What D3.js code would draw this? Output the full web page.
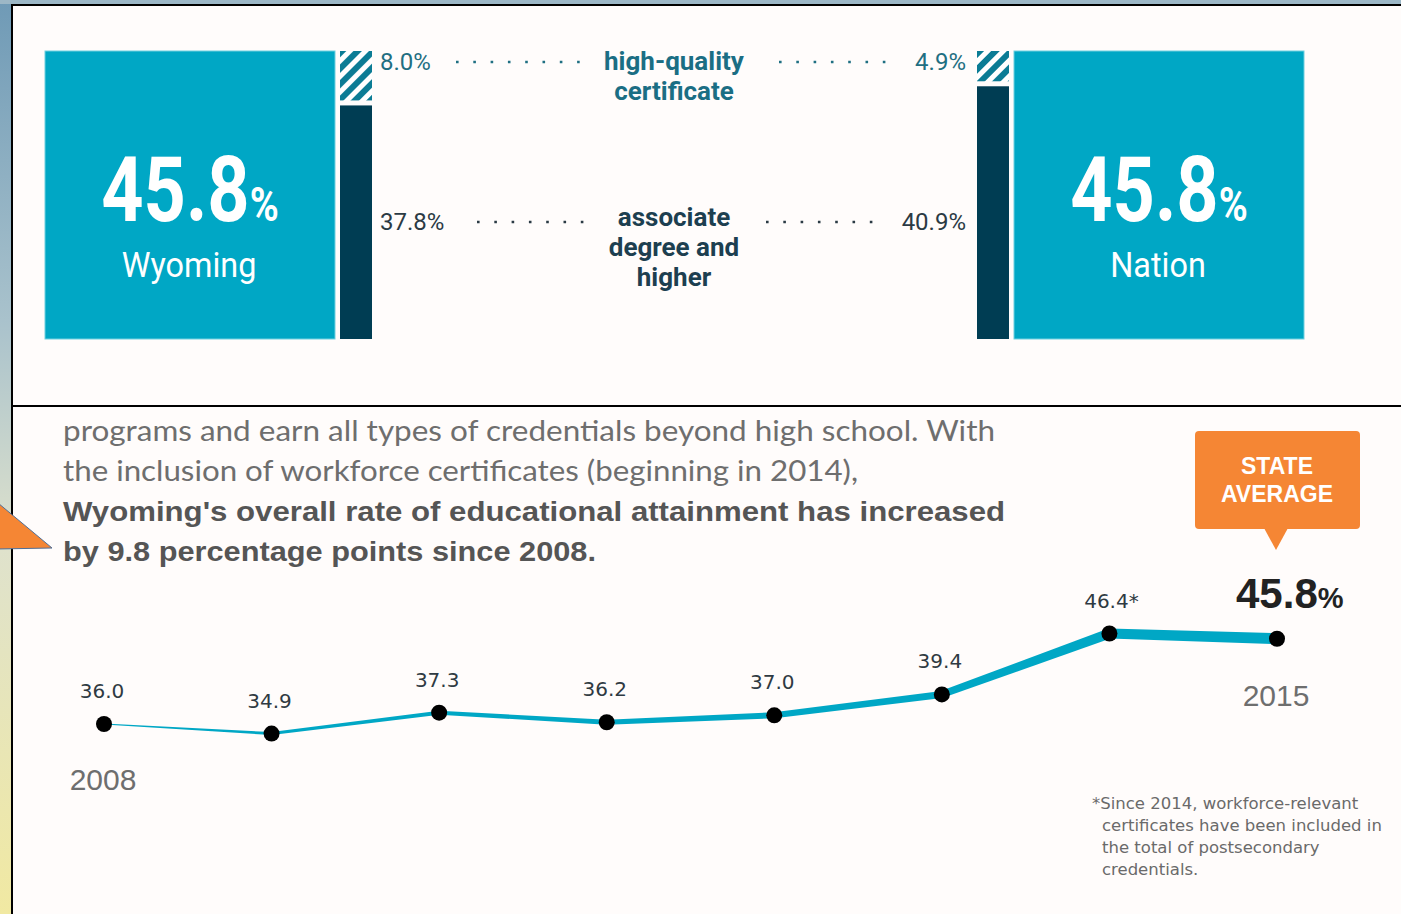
<html>
<head>
<script src="https://d3js.org/d3.v7.min.js"></script>
<style>
  body { margin: 0; background: #fffcfb; }
</style>
</head>
<body>
<svg id="chart"></svg>
<script>
// top comparison: Wyoming vs Nation
var places = ["Wyoming", "Nation"];
var totals = [45.8, 45.8];
var certificate = [8.0, 4.9];
var associate = [37.8, 40.9];
var segmentLabels = [["high-quality", "certificate"], ["associate", "degree and", "higher"]];

// trend line
var years = [2008, 2009, 2010, 2011, 2012, 2013, 2014, 2015];
var rates = [36.0, 34.9, 37.3, 36.2, 37.0, 39.4, 46.4, 45.8];
var rateLabels = ["36.0", "34.9", "37.3", "36.2", "37.0", "39.4", "46.4*", ""];

var paragraph = [
  "programs and earn all types of credentials beyond high school. With",
  "the inclusion of workforce certificates (beginning in 2014),"
];
var paragraphBold = [
  "Wyoming's overall rate of educational attainment has increased",
  "by 9.8 percentage points since 2008."
];
var footnote = [
  "*Since 2014, workforce-relevant",
  "certificates have been included in",
  "the total of postsecondary",
  "credentials."
];

var W = 1401, H = 914;
var teal = "#00a7c5", navy = "#003d53", hatchCol = "#0b7c95", orange = "#f58634";

var svg = d3.select("#chart").attr("width", W).attr("height", H)
  .attr("font-family", "Roboto, 'Liberation Sans', sans-serif");

// ---- background strips + frame
var defs = svg.append("defs");
var lg = defs.append("linearGradient").attr("id", "side").attr("x1", 0).attr("x2", 0).attr("y1", 0).attr("y2", 1);
lg.append("stop").attr("offset", "0%").attr("stop-color", "#6f9ab6");
lg.append("stop").attr("offset", "35%").attr("stop-color", "#a9c2cc");
lg.append("stop").attr("offset", "60%").attr("stop-color", "#dfe2cc");
lg.append("stop").attr("offset", "100%").attr("stop-color", "#f1e9a2");
var pat = defs.append("pattern").attr("id", "hatch").attr("patternUnits", "userSpaceOnUse")
  .attr("width", 11).attr("height", 11).attr("patternTransform", "rotate(45)");
pat.append("rect").attr("width", 11).attr("height", 11).attr("fill", "#fff");
pat.append("rect").attr("width", 6).attr("height", 11).attr("fill", hatchCol);

svg.append("rect").attr("width", W).attr("height", H).attr("fill", "#fffcfb");
svg.append("rect").attr("x", 0).attr("y", 0).attr("width", 11).attr("height", H).attr("fill", "url(#side)");
svg.append("rect").attr("x", 0).attr("y", 0).attr("width", W).attr("height", 4).attr("fill", "#9cb7c6");
svg.append("line").attr("x1", 11).attr("x2", W).attr("y1", 5).attr("y2", 5).attr("stroke", "#000").attr("stroke-width", 2);
svg.append("line").attr("x1", 12).attr("x2", 12).attr("y1", 4).attr("y2", H).attr("stroke", "#000").attr("stroke-width", 2);
svg.append("line").attr("x1", 12).attr("x2", W).attr("y1", 406).attr("y2", 406).attr("stroke", "#000").attr("stroke-width", 2);

// ---- top panel
var barTop = 51, barBottom = 339, gap = 5;
var hScale = d3.scaleLinear().domain([0, d3.max(totals)]).range([0, barBottom - barTop - gap]);
var boxX = [45, 1014], boxW = 290, stackX = [340, 977], stackW = 32;

places.forEach(function(p, i) {
  var g = svg.append("g");
  g.append("rect").attr("x", boxX[i]).attr("y", barTop).attr("width", boxW).attr("height", barBottom - barTop)
    .attr("fill", teal).attr("stroke", "#6fcfe0").attr("stroke-width", 1);
  var big = g.append("text").attr("transform", "translate(" + (boxX[i] + boxW / 2) + ",221) scale(0.82,1)")
    .attr("text-anchor", "middle").attr("fill", "#fff").attr("font-weight", "bold");
  big.append("tspan").attr("font-size", 90).text(d3.format(".1f")(totals[i]));
  big.append("tspan").attr("font-size", 48).text("%");
  g.append("text").attr("transform", "translate(" + (boxX[i] + boxW / 2 - 1) + ",277) scale(0.9,1)")
    .attr("text-anchor", "middle").attr("fill", "#fff").attr("font-size", 36).text(p);

  var hc = hScale(certificate[i]), ha = hScale(associate[i]);
  g.append("rect").attr("x", stackX[i]).attr("y", barTop).attr("width", stackW).attr("height", hc).attr("fill", "url(#hatch)");
  g.append("rect").attr("x", stackX[i]).attr("y", barTop + hc + gap).attr("width", stackW).attr("height", ha).attr("fill", navy);
});

// value labels with dotted leaders
var fmtP = function(v) { return d3.format(".1f")(v) + "%"; };
var rowY = [70, 230], rowCol = ["#1f6f82", "#2b3a44"];
var leaders = [
  [[456, 578], [779, 885]],
  [[477, 585], [766, 876]]
];
[certificate, associate].forEach(function(arr, r) {
  svg.append("text").attr("x", 380).attr("y", rowY[r]).attr("font-size", 24).attr("fill", rowCol[r]).text(fmtP(arr[0]));
  svg.append("text").attr("x", 966).attr("y", rowY[r]).attr("text-anchor", "end").attr("font-size", 24).attr("fill", rowCol[r]).text(fmtP(arr[1]));
  leaders[r].forEach(function(l) {
    svg.append("line").attr("x1", l[0]).attr("x2", l[1] + 3).attr("y1", rowY[r] - 8).attr("y2", rowY[r] - 8)
      .attr("stroke", rowCol[r]).attr("stroke-width", 2.6).attr("stroke-dasharray", "2.6 14.7");
  });
});
var lblTop = [70, 226], lblCol = ["#1b6e84", "#1d3f50"];
segmentLabels.forEach(function(lines, r) {
  lines.forEach(function(t, k) {
    svg.append("text").attr("x", 674).attr("y", lblTop[r] + k * 30).attr("text-anchor", "middle")
      .attr("font-size", 26).attr("font-weight", "bold").attr("fill", lblCol[r]).text(t);
  });
});

// ---- paragraph
var pWidths = [932, 795], bWidths = [942, 533];
paragraph.forEach(function(t, k) {
  svg.append("text").attr("x", 63).attr("y", 441 + k * 40).attr("font-family", "Lato").attr("font-size", 28)
    .attr("fill", "#6e6e6e").attr("textLength", pWidths[k]).attr("lengthAdjust", "spacingAndGlyphs").text(t);
});
paragraphBold.forEach(function(t, k) {
  svg.append("text").attr("x", 63).attr("y", 521 + k * 40).attr("font-family", "Liberation Sans").attr("font-size", 28)
    .attr("font-weight", "bold").attr("fill", "#555").attr("textLength", bWidths[k]).attr("lengthAdjust", "spacingAndGlyphs").text(t);
});

// orange pointer on the left edge
svg.append("polygon").attr("points", "-20,488 52,548 -4,549").attr("fill", orange).attr("stroke", "#4f6f98").attr("stroke-width", 1);

// ---- trend line
var x = d3.scalePoint().domain(years).range([104, 1277]);
var y = d3.scaleLinear().domain([36, 46.4]).range([724, 633.5]);
var widths = [1, 3, 4, 5, 6, 7, 10, 11];
var pts = years.map(function(yr, i) { return [x(yr), y(rates[i])]; });
for (var i = 0; i < pts.length - 1; i++) {
  var a = pts[i], b = pts[i + 1];
  var dx = b[0] - a[0], dy = b[1] - a[1], len = Math.sqrt(dx * dx + dy * dy);
  var nx = -dy / len, ny = dx / len;
  var wa = widths[i] / 2, wb = widths[i + 1] / 2;
  var poly = [[a[0] + nx * wa, a[1] + ny * wa], [b[0] + nx * wb, b[1] + ny * wb], [b[0] - nx * wb, b[1] - ny * wb], [a[0] - nx * wa, a[1] - ny * wa]];
  svg.append("polygon").attr("points", poly.map(function(p) { return p.join(","); }).join(" ")).attr("fill", teal);
  svg.append("circle").attr("cx", b[0]).attr("cy", b[1]).attr("r", wb).attr("fill", teal);
}
svg.selectAll("circle.dot").data(years).enter().append("circle").attr("class", "dot")
  .attr("cx", function(d) { return x(d); }).attr("cy", function(d, i) { return y(rates[i]); })
  .attr("r", 8).attr("fill", "#000");
svg.selectAll("text.val").data(years).enter().append("text").attr("class", "val")
  .attr("x", function(d, i) { return x(d) - 2 + (rateLabels[i].indexOf("*") > 0 ? 4 : 0); })
  .attr("y", function(d, i) { return y(rates[i]) - 26; })
  .attr("text-anchor", "middle").attr("font-family", "DejaVu Sans").attr("font-size", 20).attr("fill", "#2f3a42")
  .text(function(d, i) { return rateLabels[i]; });

svg.append("text").attr("x", x(years[0]) - 1).attr("y", 790).attr("text-anchor", "middle")
  .attr("font-family", "Liberation Sans").attr("font-size", 30).attr("fill", "#6e6e6e").text(years[0]);
svg.append("text").attr("x", x(years[years.length - 1]) - 1).attr("y", 706).attr("text-anchor", "middle")
  .attr("font-family", "Liberation Sans").attr("font-size", 30).attr("fill", "#6e6e6e").text(years[years.length - 1]);

var last = svg.append("text").attr("x", 1236).attr("y", 608).attr("font-family", "Liberation Sans")
  .attr("font-weight", "bold").attr("fill", "#222");
last.append("tspan").attr("font-size", 42).text(d3.format(".1f")(rates[rates.length - 1]));
last.append("tspan").attr("font-size", 29).text("%");

// callout
svg.append("rect").attr("x", 1195).attr("y", 431).attr("width", 165).attr("height", 98).attr("rx", 4).attr("fill", orange);
svg.append("polygon").attr("points", "1264,528 1288,528 1276,550").attr("fill", orange);
["STATE", "AVERAGE"].forEach(function(t, k) {
  svg.append("text").attr("x", 1277).attr("y", 474 + k * 28).attr("text-anchor", "middle")
    .attr("font-family", "Liberation Sans").attr("font-weight", "bold").attr("font-size", 23).attr("fill", "#fff").text(t);
});

// footnote
footnote.forEach(function(t, k) {
  svg.append("text").attr("x", k === 0 ? 1092 : 1102).attr("y", 809 + k * 22)
    .attr("font-family", "DejaVu Sans").attr("font-size", 16.5).attr("fill", "#6a6a6a").text(t);
});
</script>
</body>
</html>
